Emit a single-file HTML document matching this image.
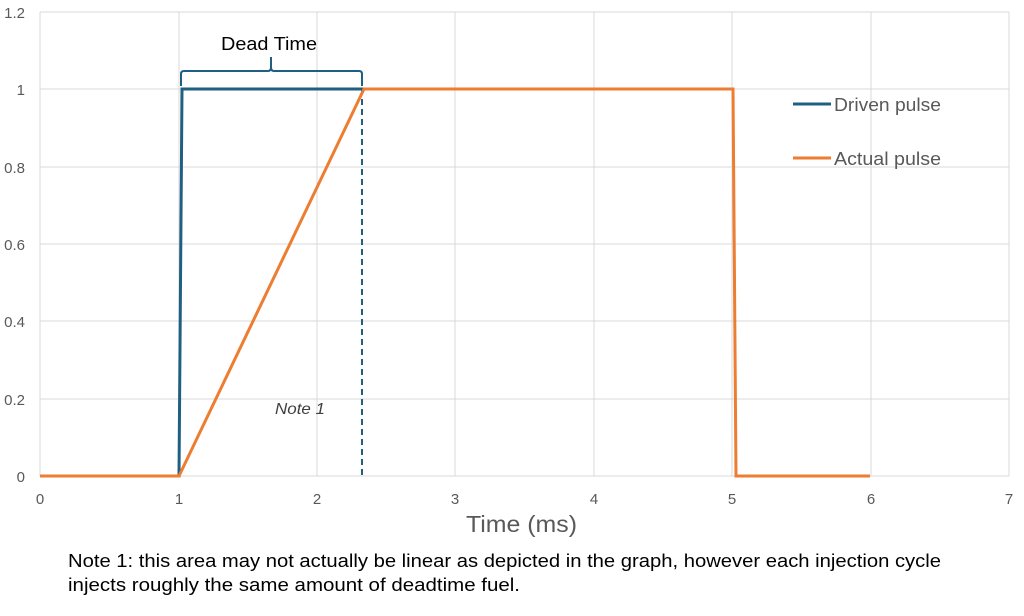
<!DOCTYPE html>
<html><head><style>
body{margin:0;background:#fff;width:1024px;height:611px;overflow:hidden;font-family:"Liberation Sans",sans-serif}
</style></head><body>
<svg width="1024" height="611" xmlns="http://www.w3.org/2000/svg" font-family="Liberation Sans, sans-serif">
<g stroke="#d9d9d9" stroke-width="1">
<line x1="40" y1="12" x2="1009" y2="12"/><line x1="40" y1="89" x2="1009" y2="89"/>
<line x1="40" y1="167" x2="1009" y2="167"/><line x1="40" y1="244" x2="1009" y2="244"/>
<line x1="40" y1="321" x2="1009" y2="321"/><line x1="40" y1="399" x2="1009" y2="399"/>
<line x1="40" y1="476" x2="1009" y2="476"/>
<line x1="40" y1="12" x2="40" y2="476"/><line x1="179" y1="12" x2="179" y2="476"/>
<line x1="317" y1="12" x2="317" y2="476"/><line x1="455" y1="12" x2="455" y2="476"/>
<line x1="594" y1="12" x2="594" y2="476"/><line x1="732" y1="12" x2="732" y2="476"/>
<line x1="871" y1="12" x2="871" y2="476"/><line x1="1009" y1="12" x2="1009" y2="476"/>
</g>
<g font-size="15" fill="#595959" text-anchor="end">
<text x="25" y="18">1.2</text><text x="25" y="95">1</text><text x="25" y="173">0.8</text>
<text x="25" y="250">0.6</text><text x="25" y="327">0.4</text><text x="25" y="405">0.2</text><text x="25" y="482">0</text>
</g>
<g font-size="15" fill="#595959" text-anchor="middle">
<text x="40" y="504">0</text><text x="179" y="504">1</text><text x="317" y="504">2</text><text x="455" y="504">3</text>
<text x="594" y="504">4</text><text x="732" y="504">5</text><text x="871" y="504">6</text><text x="1009" y="504">7</text>
</g>
<text x="466" y="532" font-size="23" fill="#595959" textLength="111" lengthAdjust="spacingAndGlyphs">Time (ms)</text>
<polyline points="40,476 179,476 182,89 733,89" fill="none" stroke="#1f5f82" stroke-width="3"/>
<line x1="362" y1="89" x2="362" y2="476" stroke="#1f5f82" stroke-width="2" stroke-dasharray="6,4"/>
<polyline points="40,476 179,476 364,89 733,89 736,476 870,476" fill="none" stroke="#ed7d31" stroke-width="3"/>
<path d="M181,86 L181,74 Q181,71 184,71 L268,71 Q271,71 271,67 L271,57 M271,67 Q271,71 274,71 L359,71 Q362,71 362,74 L362,86" fill="none" stroke="#1f5f82" stroke-width="2"/>
<text x="221" y="50" font-size="18" fill="#000" textLength="96" lengthAdjust="spacingAndGlyphs">Dead Time</text>
<text x="275" y="414" font-size="16" font-style="italic" fill="#404040" textLength="50" lengthAdjust="spacingAndGlyphs">Note 1</text>
<line x1="793" y1="104" x2="831" y2="104" stroke="#1f5f82" stroke-width="3"/>
<text x="834" y="111" font-size="18" fill="#595959" textLength="107" lengthAdjust="spacingAndGlyphs">Driven pulse</text>
<line x1="793" y1="158" x2="831" y2="158" stroke="#ed7d31" stroke-width="3"/>
<text x="834" y="165" font-size="18" fill="#595959" textLength="107" lengthAdjust="spacingAndGlyphs">Actual pulse</text>
<text x="68" y="567" font-size="18" fill="#000" textLength="873" lengthAdjust="spacingAndGlyphs">Note 1: this area may not actually be linear as depicted in the graph, however each injection cycle</text>
<text x="68" y="591" font-size="18" fill="#000" textLength="452" lengthAdjust="spacingAndGlyphs">injects roughly the same amount of deadtime fuel.</text>
</svg>
</body></html>
